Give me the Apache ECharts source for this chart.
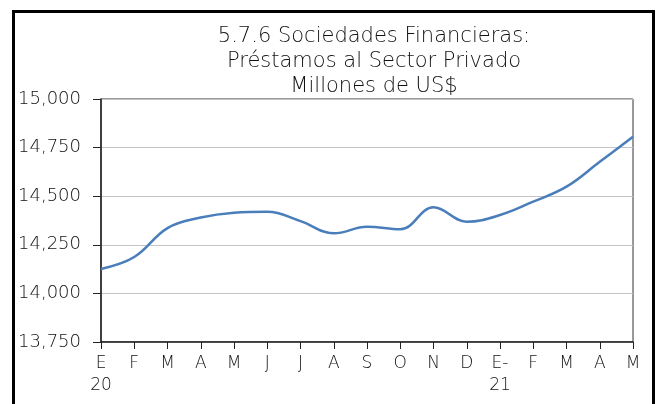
<!DOCTYPE html>
<html>
<head>
<meta charset="utf-8">
<script src="https://cdn.jsdelivr.net/npm/echarts@6/dist/echarts.min.js"></script>
<style>html,body{margin:0;padding:0;background:#fff}#c{width:657px;height:404px}</style>
</head>
<body>
<div id="c"></div>
<script>
const categories = ['E\n20','F','M','A','M','J','J','A','S','O','N','D','E-\n21','F','M','A','M'];
const values = [14126,14187,14336,14390,14415,14420,14372,14309,14343,14330,14443,14369,14403,14472,14549,14677,14806];
const yTicks = {min:13750, max:15000, interval:250};
const titleText = '5.7.6 Sociedades Financieras:\nPréstamos al Sector Privado\nMillones de US$';

const FONT = '"DejaVu Sans"';
const chart = echarts.init(document.getElementById('c'), null, {renderer:'canvas'});
chart.setOption({
  backgroundColor:'#fff',
  animation:false,
  title:{
    text:titleText, left:369, top:19, textAlign:'center',
    textStyle:{fontFamily:FONT, fontWeight:200, fontSize:21, lineHeight:25, color:'#111'}
  },
  graphic:[{
    type:'rect', shape:{x:13.5, y:11.5, width:640, height:400},
    style:{fill:null, stroke:'#000', lineWidth:3}, silent:true
  }],
  grid:{left:101, right:24, top:99, bottom:62, show:true, borderColor:'#333', borderWidth:1},
  xAxis:{
    type:'category', data:categories, boundaryGap:false,
    axisLine:{lineStyle:{color:'#222', width:1.5}},
    axisTick:{show:true, length:7, alignWithLabel:true, lineStyle:{color:'#222'}},
    axisLabel:{fontFamily:FONT, fontWeight:200, fontSize:17, color:'#111', margin:11, lineHeight:22, interval:0}
  },
  yAxis:{
    type:'value', min:yTicks.min, max:yTicks.max, interval:yTicks.interval,
    axisLine:{show:true, lineStyle:{color:'#222', width:1.5}},
    axisTick:{show:true, length:8, lineStyle:{color:'#222'}},
    splitLine:{lineStyle:{color:'#c4c4c4', width:1}},
    axisLabel:{fontFamily:FONT, fontWeight:200, fontSize:18, color:'#111', margin:20,
      formatter:v=>v.toLocaleString('en-US')}
  },
  series:[{
    type:'line', data:values, smooth:0.4, symbol:'none',
    lineStyle:{color:'#4a7ebb', width:2.5}
  }]
});
</script>
</body>
</html>
